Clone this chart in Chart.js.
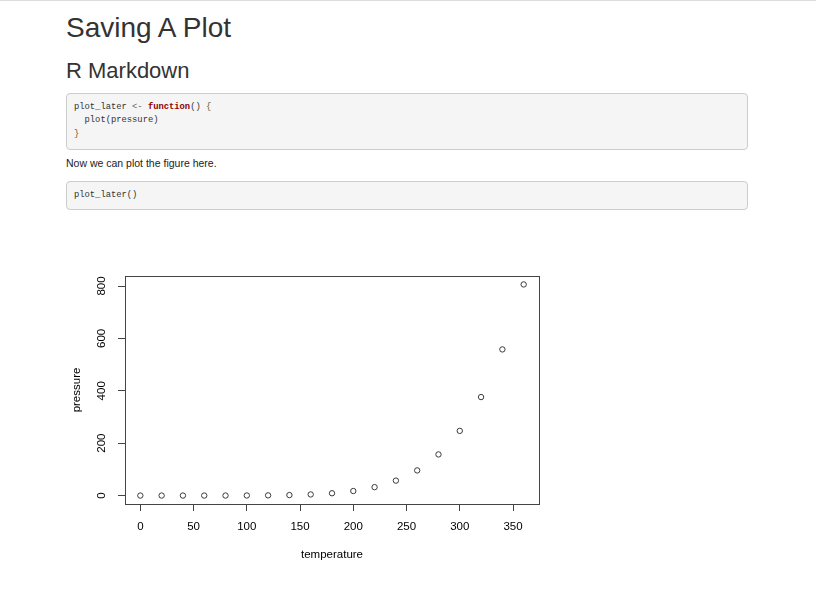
<!DOCTYPE html>
<html>
<head>
<meta charset="utf-8">
<script src="https://cdn.jsdelivr.net/npm/chart.js@4/dist/chart.umd.min.js"></script>
<style>
html,body{margin:0;padding:0;background:#fff;}
body{width:816px;height:595px;position:relative;overflow:hidden;font-family:'Liberation Sans',Arial,Helvetica,sans-serif;color:#333;}
.topline{position:absolute;left:0;top:0;width:816px;height:1px;background:#dcdcdc;}
.t{position:absolute;white-space:nowrap;margin:0;font-weight:normal;}
h1.t{left:66px;top:14.3px;font-size:28px;line-height:28px;color:#333;}
h2.t{left:66px;top:60.4px;font-size:22px;line-height:22px;color:#333;}
p.t{left:66px;top:158px;font-size:10.5px;line-height:10.5px;color:#222;}
pre{position:absolute;left:66px;width:682px;box-sizing:border-box;margin:0;background:#f5f5f5;border:1px solid #ccc;border-radius:4px;padding:7px 7px 0 7px;font-family:'Liberation Mono','DejaVu Sans Mono',monospace;font-size:8.8px;line-height:13.3px;color:#333;overflow:hidden;}
#c1{top:93px;height:57px;}
#c2{top:181px;height:29px;}
.kw{color:#8b0000;font-weight:bold;}
.op{color:#666;}
.br{color:#6d5a2a;}
#chartbox{position:absolute;left:60px;top:260px;width:500px;height:320px;}
</style>
</head>
<body>
<div class="topline"></div>
<h1 class="t">Saving A Plot</h1>
<h2 class="t">R Markdown</h2>
<pre id="c1">plot_later <span class="op">&lt;-</span> <span class="kw">function</span>() <span class="br">{</span>
  plot(pressure)
<span class="br">}</span></pre>
<p class="t">Now we can plot the figure here.</p>
<pre id="c2">plot_later()</pre>
<div id="chartbox"><canvas id="chart" width="500" height="320"></canvas></div>
<script>
// Data: R's built-in "pressure" dataset
const temperature = [0, 20, 40, 60, 80, 100, 120, 140, 160, 180, 200, 220, 240, 260, 280, 300, 320, 340, 360];
const pressure = [0.0002, 0.0012, 0.006, 0.03, 0.09, 0.27, 0.75, 1.85, 4.2, 8.8, 17.3, 32.1, 57, 96, 157, 247, 376, 558, 806];
const xTicks = [0, 50, 100, 150, 200, 250, 300, 350];
const yTicks = [0, 200, 400, 600, 800];
const xLabel = 'temperature';
const yLabel = 'pressure';

// R-style 4% axis range extension
function rRange(arr) {
  const lo = Math.min(...arr), hi = Math.max(...arr);
  const d = (hi - lo) * 0.04;
  return [lo - d, hi + d];
}
const [xMin, xMax] = rRange(temperature);
const [yMin, yMax] = rRange(pressure);

const FONT = "'Liberation Sans', Arial, Helvetica, sans-serif";
const INK = '#000';
const LINE = '#444';

const boxPlugin = {
  id: 'rbox',
  afterDraw(chart) {
    const {ctx, chartArea: a} = chart;
    ctx.save();
    ctx.strokeStyle = LINE;
    ctx.lineWidth = 1;
    const l = Math.round(a.left) + 0.5, t = Math.round(a.top) + 0.5;
    const r = Math.round(a.right) + 0.5, b = Math.round(a.bottom) + 0.5;
    ctx.strokeRect(l, t, r - l, b - t);
    ctx.restore();
  }
};

new Chart(document.getElementById('chart'), {
  type: 'scatter',
  data: {
    datasets: [{
      data: temperature.map((t, i) => ({x: t, y: pressure[i]})),
      showLine: false,
      pointStyle: 'circle',
      pointRadius: 2.7,
      pointBorderWidth: 1,
      pointBorderColor: '#3a3a3a',
      pointBackgroundColor: 'rgba(0,0,0,0)'
    }]
  },
  options: {
    responsive: false,
    animation: false,
    devicePixelRatio: 1,
    events: [],
    layout: {padding: {left: 0, right: 21, top: 16, bottom: 0}},
    plugins: {legend: {display: false}, tooltip: {enabled: false}},
    scales: {
      x: {
        type: 'linear',
        min: xMin,
        max: xMax,
        afterBuildTicks: s => { s.ticks = xTicks.map(v => ({value: v})); },
        afterFit: s => { s.height = 76; },
        grid: {display: true, drawOnChartArea: false, drawTicks: true, tickLength: 7, color: LINE, lineWidth: 1},
        border: {display: false},
        ticks: {padding: 8.6, color: INK, font: {family: FONT, size: 11.5}, maxRotation: 0, minRotation: 0, autoSkip: false},
        title: {display: true, text: xLabel, color: INK, font: {family: FONT, size: 11.5}, padding: {top: 0, bottom: 18}}
      },
      y: {
        type: 'linear',
        min: yMin,
        max: yMax,
        afterBuildTicks: s => { s.ticks = yTicks.map(v => ({value: v})); },
        afterFit: s => { s.width = 65; },
        grid: {display: true, drawOnChartArea: false, drawTicks: true, tickLength: 7, color: LINE, lineWidth: 1},
        border: {display: false},
        ticks: {padding: 7, color: INK, font: {family: FONT, size: 11.5}, minRotation: 90, maxRotation: 90, crossAlign: 'center', autoSkip: false},
        title: {display: true, text: yLabel, color: INK, font: {family: FONT, size: 11.5}, padding: {top: 9.8, bottom: 0}}
      }
    }
  },
  plugins: [boxPlugin]
});
</script>
</body>
</html>
